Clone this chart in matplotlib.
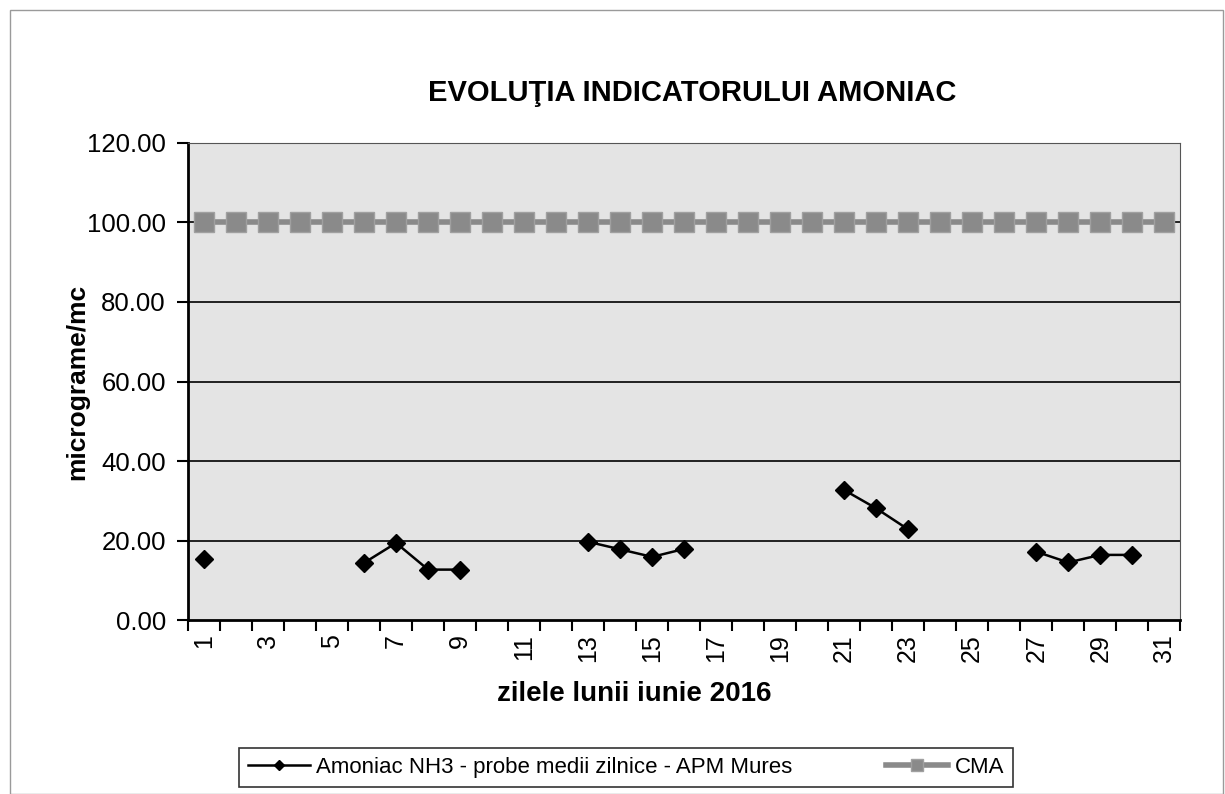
import numpy as np
import matplotlib.pyplot as plt
from matplotlib.patches import Rectangle

plt.rcParams['font.family'] = ['Liberation Sans', 'DejaVu Sans']

# data
days = list(range(1, 32))
amoniac = [15.3, None, None, None, None, 14.4, 19.4, 12.7, 12.7, None,
           None, None, 19.7, 17.8, 15.9, 17.9, None, None, None, None,
           32.7, 28.1, 22.8, None, None, None, 17.2, 14.5, 16.4, 16.4, None]
cma = [100.0] * 31
tick_days = list(range(1, 32, 2))
y_ticks = [0, 20, 40, 60, 80, 100, 120]

amoniac = np.array([np.nan if v is None else v for v in amoniac])

fig = plt.figure(figsize=(12.25, 7.94), dpi=100)
fig.patch.set_facecolor('white')
# outer chart frame
fig.patches.append(Rectangle((0.008, 0.0), 0.99, 0.988, transform=fig.transFigure,
                             fill=False, edgecolor='#9a9a9a', linewidth=1))

ax = fig.add_axes([0.1535, 0.219, 0.81, 0.601])
ax.set_facecolor('#e4e4e4')

# grid lines
for y in y_ticks[1:-1]:
    ax.axhline(y, color='black', linewidth=1.2, zorder=1)

ax.plot(days, cma, color='#8a8a8a', linewidth=4, marker='s', markersize=15,
        markerfacecolor='#8a8a8a', markeredgecolor='#a0a0a0', zorder=2,
        label='CMA')
ax.plot(days, amoniac, color='black', linewidth=1.8, marker='D', markersize=9,
        zorder=3, label='Amoniac NH3 - probe medii zilnice - APM Mures')

ax.set_xlim(0.5, 31.5)
ax.set_ylim(0, 120)
ax.set_yticks(y_ticks)
ax.set_yticklabels(['%.2f' % v for v in y_ticks], fontsize=18.5)
ax.set_xticks(tick_days)
ax.set_xticklabels([str(d) for d in tick_days], rotation=90, fontsize=18)
ax.set_xticks(np.arange(0.5, 32, 1), minor=True)
ax.tick_params(axis='x', which='major', length=0, pad=10)
ax.tick_params(axis='x', which='minor', length=8, width=1.5, direction='out')
ax.tick_params(axis='y', length=8, width=1.5, direction='out', pad=8)

for s in ['left', 'bottom']:
    ax.spines[s].set_linewidth(2)
ax.spines['top'].set_color('#555555')
ax.spines['right'].set_color('#555555')

ax.set_ylabel('micrograme/mc', fontsize=19, fontweight='bold')
ax.yaxis.set_label_coords(-0.1, 0.5)
ax.set_xlabel('zilele lunii iunie 2016', fontsize=20, fontweight='bold')
ax.xaxis.set_label_coords(0.45, -0.127)
fig.text(0.565, 0.883, 'EVOLUŢIA INDICATORULUI AMONIAC', ha='center', va='center',
         fontsize=21, fontweight='bold')

handles, labels = ax.get_legend_handles_labels()
leg = fig.legend(handles[::-1], labels[::-1], loc='center', ncol=2,
                 bbox_to_anchor=(0.511, 0.0335), frameon=True,
                 prop={'size': 16},
                 fancybox=False, edgecolor='black', columnspacing=4.2,
                 handlelength=2.8, handletextpad=0.3, markerscale=0.6,
                 borderpad=0.4, borderaxespad=0)
leg.get_frame().set_linewidth(1.2)

fig.savefig('out.png', dpi=100)
